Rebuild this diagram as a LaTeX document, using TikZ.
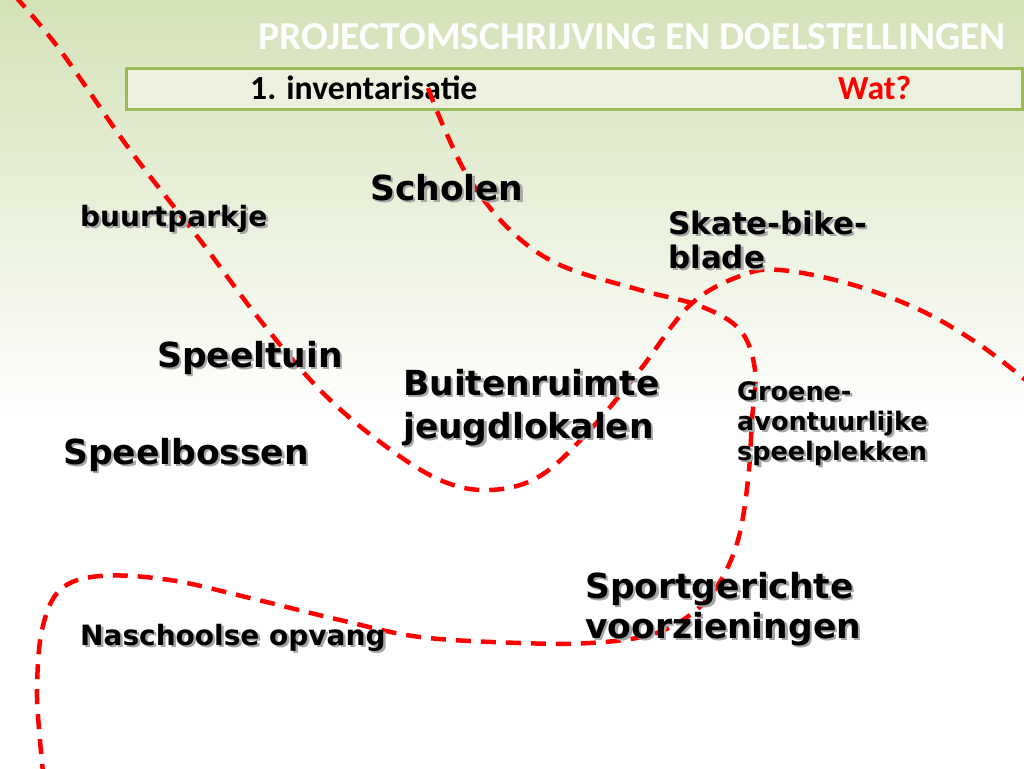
\documentclass[tikz,border=0pt]{standalone}
\usepackage{fontspec}
\setmainfont{Carlito}
\newfontfamily\labelfont{DejaVu Sans}
\usetikzlibrary{calc}

\definecolor{topgreen}{RGB}{212,226,184}
\definecolor{boxgreen}{RGB}{155,187,89}
\definecolor{boxfill}{RGB}{235,241,222}
\definecolor{routered}{RGB}{255,0,0}

\tikzset{
  lbl/.style={anchor=base west,inner sep=0pt,align=left,font=\labelfont\bfseries},
  route/.style={routered,line width=4.5pt,dash pattern=on 15pt off 10pt,line cap=butt},
}
% label with a soft grey shadow behind it
\newcommand\spot[4][]{%
  \node[lbl,#1,text=black!35] at ($(#3)+(2.5,2.5)$) {#4};
  \node[lbl,#1] (#2) at (#3) {#4};}

\begin{document}
\begin{tikzpicture}[x=1pt,y=-1pt]
\useasboundingbox (0,0) rectangle (1024,768);
\fill[white](0,0) rectangle (1024,768);
\shade[top color=topgreen,bottom color=white](0,0) rectangle (1024,420);

% title and header bar
\node[anchor=base east,inner sep=0pt,text=white,font=\bfseries\fontsize{39.6}{46}\selectfont] (title) at (1006,49) {PROJECTOMSCHRIJVING EN DOELSTELLINGEN};
\node[draw=boxgreen,fill=boxfill,line width=3pt,minimum width=896pt,minimum height=41pt,anchor=north west,inner sep=0pt] (bar) at (125,67) {};
\node[anchor=base west,inner sep=0pt,font=\bfseries\fontsize{33.7}{40}\selectfont] (inv) at (250,99) {1. inventarisatie};
\node[anchor=base west,inner sep=0pt,text=routered,font=\bfseries\fontsize{33.7}{40}\selectfont] (wat) at (838,99) {Wat?};

% the two routes
\draw[route] plot[smooth,tension=0.6] coordinates {(15,-4) (60,50) (130,150) (200,240) (260,320) (320,390) (380,442) (440,480) (490,490) (540,476) (590,430) (640,370) (690,305) (740,276) (780,270) (850,284) (920,310) (980,345) (1028,382)};
\draw[route] plot[smooth,tension=0.6] coordinates {(428,88) (445,130) (470,180) (510,230) (560,265) (640,290) (700,306) (740,330) (755,370) (752,420) (748,480) (738,540) (718,585) (690,615) (650,635) (590,643) (520,643) (420,637) (340,620) (250,598) (170,580) (100,576) (60,590) (42,630) (37,690) (40,740) (43,772)};

% places (multi-line ones sit on their last baseline)
\spot[font=\labelfont\bfseries\fontsize{34.5}{43}\selectfont]{scholen}{370,200}{Scholen}
\spot[font=\labelfont\bfseries\fontsize{28}{34}\selectfont]{buurt}{80,226}{buurtparkje}
\spot[font=\labelfont\bfseries\fontsize{31}{34}\selectfont]{skate}{668,268}{Skate-bike-\\blade}
\spot[font=\labelfont\bfseries\fontsize{34.5}{43}\selectfont]{tuin}{157,367}{Speeltuin}
\spot[font=\labelfont\bfseries\fontsize{34.5}{43}\selectfont]{buiten}{403,438}{Buitenruimte\\jeugdlokalen}
\spot[font=\labelfont\bfseries\fontsize{25.5}{30}\selectfont]{groen}{737,460}{Groene-\\avontuurlijke\\speelplekken}
\spot[font=\labelfont\bfseries\fontsize{34.5}{43}\selectfont]{bossen}{63,464}{Speelbossen}
\spot[font=\labelfont\bfseries\fontsize{34.5}{40}\selectfont]{sport}{585,638}{Sportgerichte\\voorzieningen}
\spot[font=\labelfont\bfseries\fontsize{28}{32}\selectfont]{opvang}{80,645}{Naschoolse opvang}
\end{tikzpicture}
\end{document}
